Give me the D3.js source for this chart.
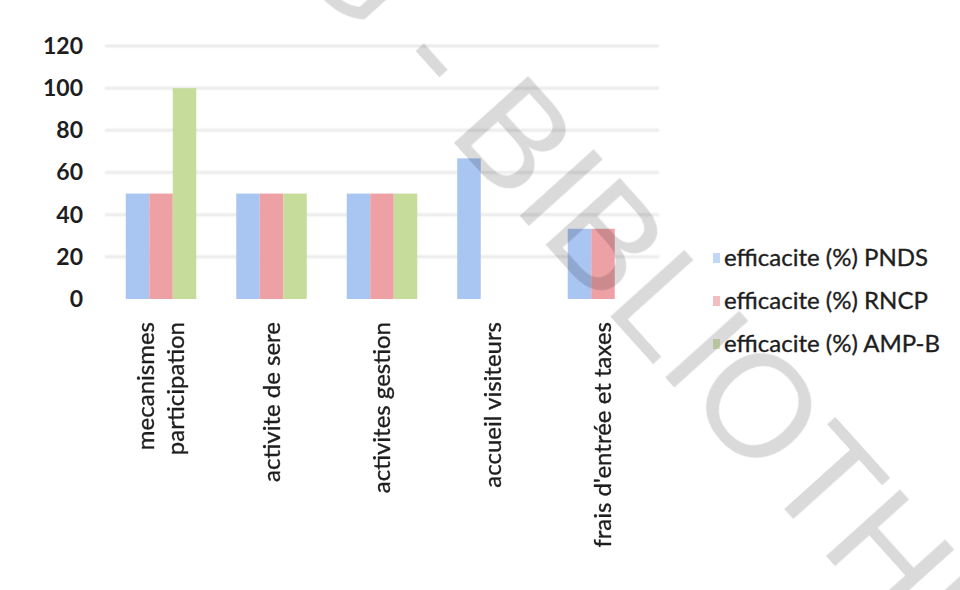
<!DOCTYPE html>
<html>
<head>
<meta charset="utf-8">
<script src="https://cdn.jsdelivr.net/npm/d3@7"></script>
<style>
  html, body { margin: 0; padding: 0; background: #fff; }
  svg { display: block; }
  text { font-family: "Lato", "Open Sans", sans-serif; fill: #1e1e1e; }
</style>
</head>
<body>
<svg id="chart" width="960" height="590"></svg>
<script>
// Categories (two-line labels are split with "\n")
const categories = [
  "mecanismes\nparticipation",
  "activite de sere",
  "activites gestion",
  "accueil visiteurs",
  "frais d'entrée et taxes"
];
const seriesNames = ["efficacite (%) PNDS", "efficacite (%) RNCP", "efficacite (%) AMP-B"];
const pnds = [50, 50, 50, 66.7, 33.3];
const rncp = [50, 50, 50, 0, 33.3];
const ampb = [100, 50, 50, 0, 0];
const yTicks = [0, 20, 40, 60, 80, 100, 120];
const colors = ["#a9c5f2", "#eea1a5", "#c6dc9b"];

const seriesValues = [pnds, rncp, ampb];
const rows = categories.map((c, i) => ({
  cat: c,
  vals: seriesNames.map((s, k) => ({ s, k, v: seriesValues[k][i] }))
}));

const svg = d3.select("#chart");

// soft scan look
const defs = svg.append("defs");
defs.append("filter").attr("id", "soft").append("feGaussianBlur").attr("stdDeviation", 0.7);
defs.append("filter").attr("id", "softer").append("feGaussianBlur").attr("stdDeviation", 1.2);

const plot = { left: 105, right: 659, top: 46, bottom: 299 };

const y = d3.scaleLinear().domain([0, 120]).range([plot.bottom, plot.top]);
const x0 = d3.scaleBand().domain(categories).range([plot.left, plot.right])
  .paddingInner(0.362).paddingOuter(0.188);
const x1 = d3.scaleBand().domain(seriesNames).range([0, x0.bandwidth()]);

// frame line on the left
svg.append("line")
  .attr("x1", 13).attr("x2", 13).attr("y1", 95).attr("y2", 590)
  .attr("stroke", "#c4c4c4").attr("stroke-width", 3).attr("filter", "url(#soft)");

// gridlines
const grid = svg.append("g").attr("filter", "url(#softer)");
grid.selectAll("line").data(yTicks.filter(d => d > 0)).join("line")
  .attr("x1", plot.left).attr("x2", plot.right)
  .attr("y1", d => y(d)).attr("y2", d => y(d))
  .attr("stroke", "#e0e0e0").attr("stroke-width", 2);

// value axis line
svg.append("line")
  .attr("x1", plot.left).attr("x2", plot.left)
  .attr("y1", y(120)).attr("y2", y(0))
  .attr("stroke", "#d4d4d4").attr("stroke-width", 1.5).attr("filter", "url(#soft)");

// bars
const groups = svg.append("g").attr("filter", "url(#soft)")
  .selectAll("g").data(rows).join("g")
  .attr("transform", d => `translate(${x0(d.cat)},0)`);
groups.selectAll("rect").data(d => d.vals.filter(v => v.v > 0)).join("rect")
  .attr("x", d => x1(d.s))
  .attr("width", x1.bandwidth())
  .attr("y", d => y(d.v))
  .attr("height", d => y(0) - y(d.v))
  .attr("fill", d => colors[d.k]);

// y axis labels
const yAxis = d3.axisLeft(y).tickValues(yTicks).tickSize(0).tickPadding(0);
const gy = svg.append("g").attr("transform", "translate(83,0)").call(yAxis);
gy.select(".domain").remove();
gy.selectAll("text")
  .style("font-family", "'Lato', sans-serif")
  .style("font-size", "23px").style("font-weight", "700").attr("fill", "#1e1e1e");

// category labels, rotated
const xAxis = d3.axisBottom(x0).tickSize(0).tickFormat("");
const gx = svg.append("g").attr("transform", `translate(0,${plot.bottom})`).call(xAxis);
gx.select(".domain").remove();
gx.selectAll(".tick").each(function(d) {
  const lines = d.split("\n");
  const t = d3.select(this).append("text")
    .attr("transform", "rotate(-90)")
    .attr("text-anchor", "end")
    .style("font-size", "24px")
    .style("stroke", "#1e1e1e").style("stroke-width", "0.35px");
  const lh = 30;
  lines.forEach((ln, i) => {
    t.append("tspan")
      .attr("x", -23)
      .attr("y", (i - (lines.length - 1) / 2) * lh)
      .attr("dy", "0.35em")
      .text(ln);
  });
});

// legend
const legend = svg.append("g");
const ly = d3.scalePoint().domain(seriesNames).range([258, 344]);
legend.selectAll("rect").data(seriesNames).join("rect")
  .attr("x", 713).attr("y", d => ly(d) - 5).attr("width", 7).attr("height", 10)
  .attr("fill", (d, i) => colors[i]).attr("opacity", 0.7).attr("filter", "url(#soft)");
legend.selectAll("text").data(seriesNames).join("text")
  .attr("x", 724).attr("y", d => ly(d)).attr("dy", "0.35em")
  .style("font-size", "24px")
  .style("stroke", "#1e1e1e").style("stroke-width", "0.35px")
  .text(d => d);

// library watermark stamped diagonally over the page
const wm = svg.append("g")
  .attr("transform", "translate(446,134) rotate(48)")
  .style("mix-blend-mode", "multiply");
const wmText = wm.append("text")
  .style("font-family", "'Liberation Sans', Arial, sans-serif")
  .style("font-size", "145px")
  .style("fill", "#dadada")
  .text("G - BIBLIOTHEQUE");
// shift so that the first "B" starts at the group origin
const prefix = wmText.node().getSubStringLength(0, 4);
wmText.attr("x", -prefix);
</script>
</body>
</html>
